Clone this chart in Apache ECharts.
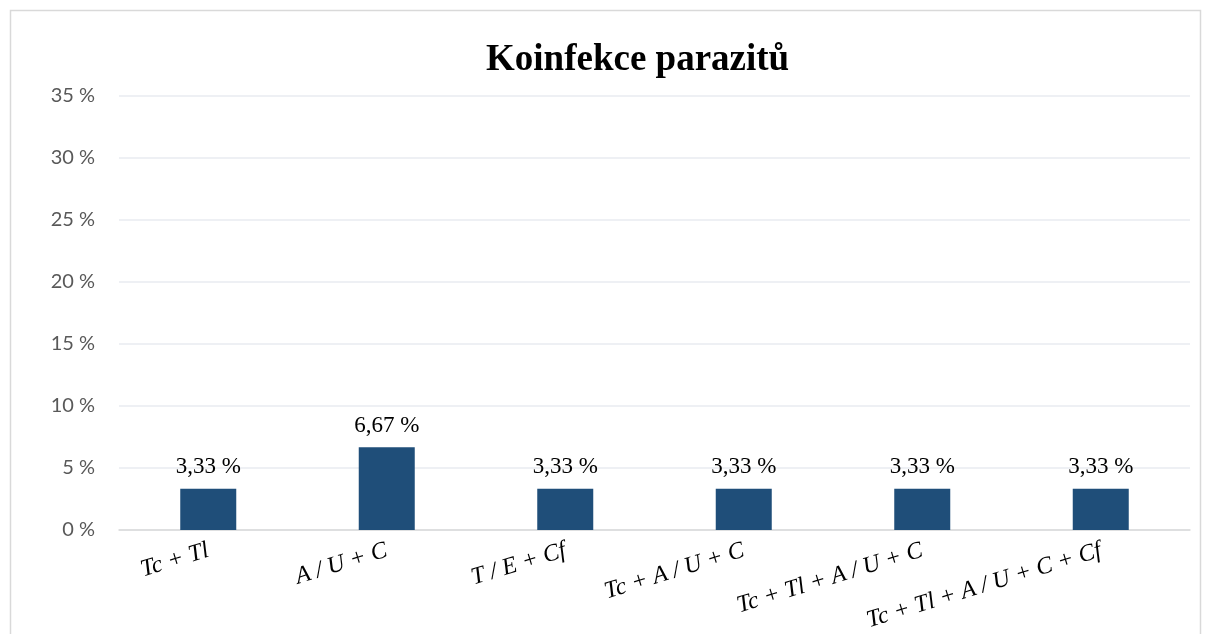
<!DOCTYPE html>
<html>
<head>
<meta charset="utf-8">
<script src="https://cdn.jsdelivr.net/npm/echarts@6/dist/echarts.min.js"></script>
<style>
html, body { margin: 0; padding: 0; background: #ffffff; }
#chart { width: 1206px; height: 634px; }
</style>
</head>
<body>
<div id="chart"></div>
<script>
// data
var categories = ['Tc + Tl', 'A / U + C', 'T / E + Cf', 'Tc + A / U + C', 'Tc + Tl + A / U + C', 'Tc + Tl + A / U + C + Cf']
var values = [3.33, 6.67, 3.33, 3.33, 3.33, 3.33]
var yTicks = [0, 5, 10, 15, 20, 25, 30, 35]

var chart = echarts.init(document.getElementById('chart'))
chart.setOption({
    animation: false,
    title: {
        text: 'Koinfekce parazitů',
        left: 481,
        top: 37,
        textStyle: {
            fontFamily: 'Liberation Serif',
            fontWeight: 'bold',
            fontSize: 37,
            color: '#000000'
        }
    },
    // chart frame
    graphic: [{
        type: 'rect',
        shape: { x: 10.5, y: 10.5, width: 1190, height: 640 },
        style: { fill: 'none', stroke: '#d9d9d9', lineWidth: 1.5 },
        silent: true
    }],
    grid: {
        left: 119,
        right: 16,
        top: 96,
        bottom: 104
    },
    xAxis: {
        type: 'category',
        data: categories,
        axisTick: { show: false },
        axisLine: { lineStyle: { color: '#d9d9d9', width: 1.5 } },
        axisLabel: {
            interval: 0,
            rotate: 17,
            margin: 20,
            fontFamily: 'Liberation Serif',
            fontStyle: 'italic',
            fontSize: 24,
            color: '#000000'
        }
    },
    yAxis: {
        type: 'value',
        min: yTicks[0],
        max: yTicks[yTicks.length - 1],
        interval: 5,
        axisLine: { show: false },
        axisTick: { show: false },
        splitLine: { lineStyle: { color: '#e8ebf0', width: 1.5 } },
        axisLabel: {
            margin: 24,
            fontFamily: 'Lato',
            fontSize: 20,
            color: '#595959',
            formatter: function (v) { return v + ' %' }
        }
    },
    series: [{
        type: 'bar',
        data: values,
        barWidth: 56,
        itemStyle: { color: '#1f4e79' },
        label: {
            show: true,
            position: 'top',
            distance: 10,
            fontFamily: 'Liberation Serif',
            fontSize: 23,
            color: '#000000',
            formatter: function (p) { return p.value.toFixed(2).replace('.', ',') + ' %' }
        }
    }]
})
</script>
</body>
</html>
